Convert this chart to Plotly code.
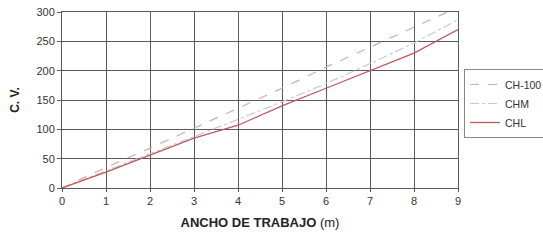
import plotly.graph_objects as go

ancho = [0, 1, 2, 3, 4, 5, 6, 7, 8, 9]
ch100 = [0, 35, 68, 102, 136, 170, 206, 240, 274, 308]
chm = [0, 29, 58, 88, 117, 147, 178, 212, 247, 287]
chl = [0, 27, 56, 85, 107, 140, 170, 200, 230, 270]

fig = go.Figure()
fig.add_trace(go.Scatter(x=ancho, y=ch100, name="CH-100", mode="lines",
                         line=dict(color="#d8a8ac", width=1.2, dash="dash")))
fig.add_trace(go.Scatter(x=ancho, y=chm, name="CHM", mode="lines",
                         line=dict(color="#c4ccd4", width=1.2, dash="dashdot")))
fig.add_trace(go.Scatter(x=ancho, y=chl, name="CHL", mode="lines",
                         line=dict(color="#c0585c", width=1.3)))

W, H = 543, 242
font = dict(family="Arial, Liberation Sans, sans-serif", size=11, color="#333333")
fig.update_layout(
    width=W, height=H,
    margin=dict(l=62, r=85, t=12, b=54),
    paper_bgcolor="white", plot_bgcolor="white",
    font=font,
    showlegend=True,
    legend=dict(xref="container", yref="container",
                x=464 / W, y=1 - 69 / H, xanchor="left", yanchor="top",
                bordercolor="#888888", borderwidth=1, bgcolor="white",
                font=dict(size=10.5, color="#333333"), tracegroupgap=0,
                itemwidth=30),
    xaxis=dict(range=[0, 9], dtick=1, showgrid=True, gridcolor="#5a5a5a", gridwidth=1,
               showline=True, linecolor="#5a5a5a", mirror=True, zeroline=False,
               ticks="outside", ticklen=3, tickcolor="#5a5a5a", automargin=False,
               title=dict(text="<b>ANCHO DE TRABAJO</b> (m)", font=dict(size=13, color="#222222"), standoff=11)),
    yaxis=dict(range=[0, 300], dtick=50, showgrid=True, gridcolor="#5a5a5a", gridwidth=1,
               showline=True, linecolor="#5a5a5a", mirror=True, zeroline=False,
               ticks="outside", ticklen=4, tickcolor="#5a5a5a", automargin=False,
               title=dict(text="<b>C. V.</b>", font=dict(size=12, color="#222222"), standoff=14)),
)
fig.write_html("out.html", config={"displayModeBar": False},
               post_script="document.body.style.margin='0';")
